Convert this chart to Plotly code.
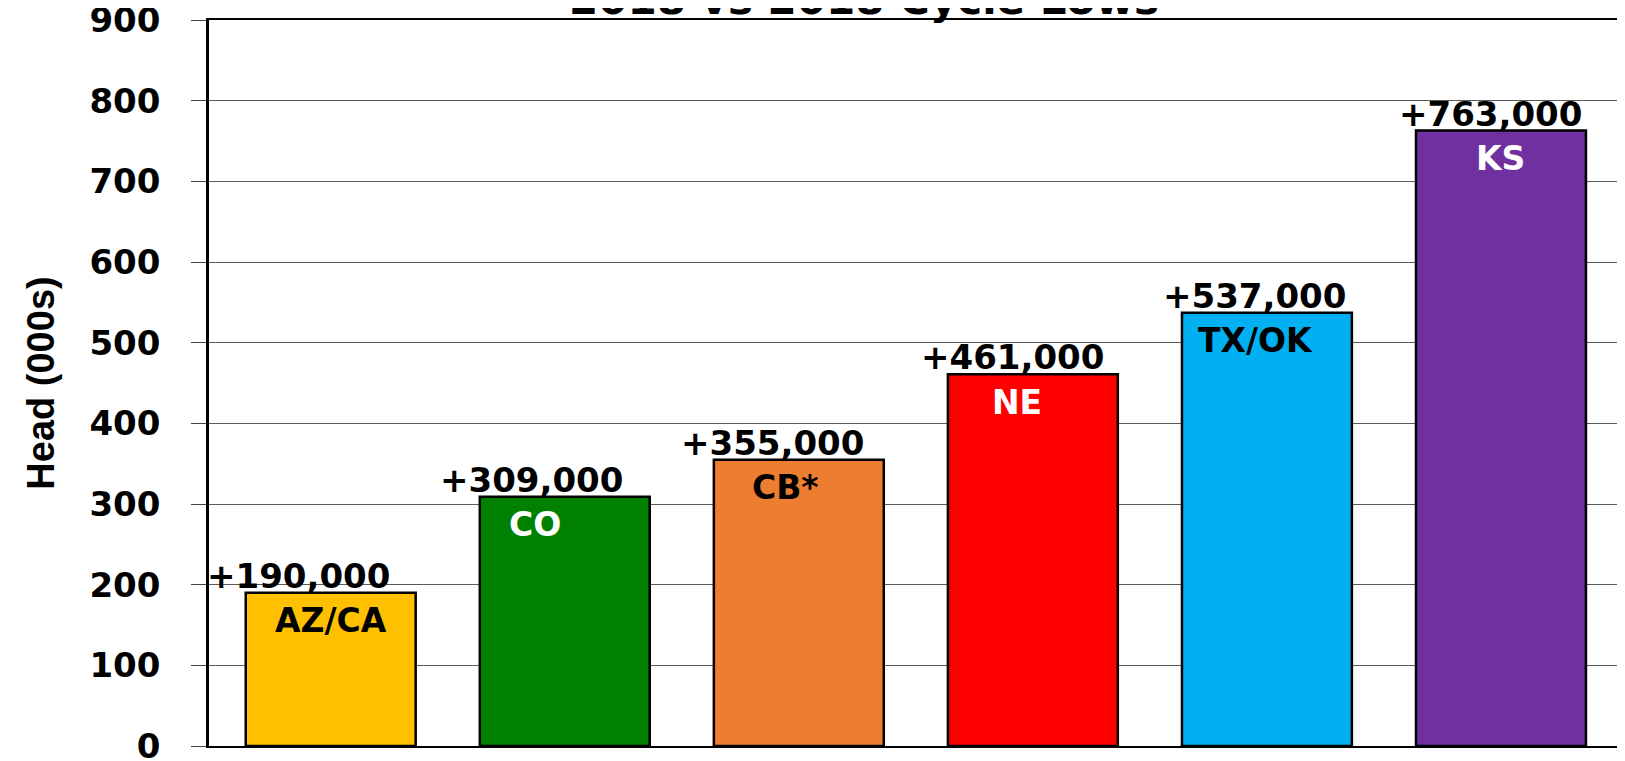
import plotly.graph_objects as go

categories = ["AZ/CA", "CO", "CB*", "NE", "TX/OK", "KS"]
values = [190, 309, 355, 461, 537, 763]
value_labels = ["+190,000", "+309,000", "+355,000", "+461,000", "+537,000", "+763,000"]
bar_colors = ["#FFC000", "#008000", "#ED7D31", "#FF0000", "#00B0F0", "#7030A0"]
inner_text_colors = ["black", "white", "black", "white", "black", "white"]
title_text = "2018 vs 2018 Cycle Lows"
y_title = "Head (000s)"

# style: horizontal pixel offsets of labels
value_label_dx = [-32, -33, -26, -20, -12, -10]
inner_label_dx = [0, -30, -13, -16, -11, 0]

FONT = "DejaVu Sans"

fig = go.Figure()
fig.add_trace(go.Bar(
    x=categories, y=values,
    marker=dict(color=bar_colors, line=dict(color="black", width=2.5)),
    hoverinfo="skip",
))

for i, (c, v) in enumerate(zip(categories, values)):
    fig.add_annotation(x=c, y=v, text=f"<b>{value_labels[i]}</b>", showarrow=False,
                       xref="x", yref="y", yanchor="middle", xanchor="center",
                       xshift=value_label_dx[i], yshift=17,
                       font=dict(family=FONT, size=34, color="black"))
    fig.add_annotation(x=c, y=v, text=f"<b>{c}</b>", showarrow=False,
                       xref="x", yref="y", yanchor="middle", xanchor="center",
                       xshift=inner_label_dx[i], yshift=-28,
                       font=dict(family=FONT, size=33, color=inner_text_colors[i]))

fig.add_annotation(x=0.465, y=1.0, xref="paper", yref="paper", yanchor="middle",
                   yshift=21, text=f"<b>{title_text}</b>", showarrow=False,
                   font=dict(family=FONT, size=42, color="black"))

fig.update_layout(
    width=1617, height=753,
    margin=dict(l=201, r=7, t=12, b=15, autoexpand=False),
    paper_bgcolor="white", plot_bgcolor="white",
    bargap=0.274, showlegend=False,
    xaxis=dict(showticklabels=False, showgrid=False, showline=True, linecolor="black",
               linewidth=2, mirror=True, ticks="", range=[-0.52, 5.5], automargin=False),
    yaxis=dict(range=[0, 900], dtick=100, showgrid=True, gridcolor="#5a5a5a", gridwidth=1,
               showline=True, linecolor="black", linewidth=2.5, mirror=True,
               ticks="outside", ticklen=15, tickcolor="#444", tickwidth=1,
               ticklabelstandoff=24, automargin=False, ticklabeloverflow="allow",
               tickfont=dict(family=FONT, size=34, color="black"),
               title=dict(text=f"<b>{y_title}</b>", standoff=24,
                          font=dict(family="Liberation Sans", size=38, color="black")),
               zeroline=False),
)
fig.update_yaxes(tickprefix="<b>", ticksuffix="</b>")

fig.write_html("out.html")
